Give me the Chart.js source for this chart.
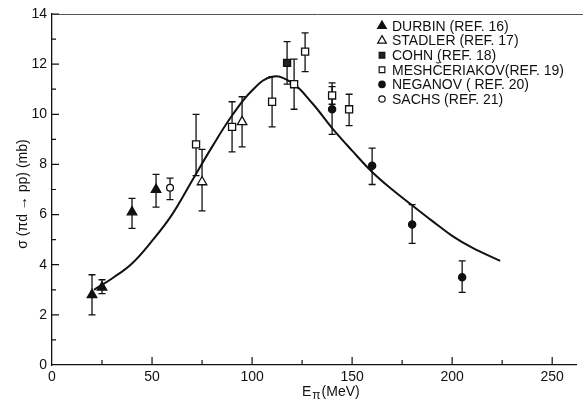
<!DOCTYPE html>
<html>
<head>
<meta charset="utf-8">
<script src="https://cdn.jsdelivr.net/npm/chart.js@4"></script>
<style>
  html, body { margin: 0; padding: 0; background: #fff; }
  #wrap { width: 583px; height: 400px; position: relative; }
</style>
</head>
<body>
<div id="wrap"><canvas id="c"></canvas></div>
<script>
// pion energy (MeV), cross section (mb), error bar limits
const durbinE = [20, 25, 40, 52];
const durbinSigma = [2.8, 3.1, 6.1, 7.0];
const durbinLo = [2.0, 2.85, 5.45, 6.3];
const durbinHi = [3.6, 3.4, 6.65, 7.6];

const stadlerE = [75, 95];
const stadlerSigma = [7.3, 9.7];
const stadlerLo = [6.15, 8.7];
const stadlerHi = [8.6, 10.7];

const cohnE = [117.5];
const cohnSigma = [12.05];
const cohnLo = [11.2];
const cohnHi = [12.9];

const meshE = [72, 90, 110, 121, 126.5, 140, 148.5];
const meshSigma = [8.8, 9.5, 10.5, 11.2, 12.5, 10.75, 10.2];
const meshLo = [7.55, 8.5, 9.5, 10.2, 11.7, 10.4, 9.55];
const meshHi = [10.0, 10.5, 11.5, 12.2, 13.25, 11.25, 10.8];

const neganovE = [140, 160, 180, 205];
const neganovSigma = [10.2, 7.95, 5.6, 3.5];
const neganovLo = [9.2, 7.2, 4.85, 2.9];
const neganovHi = [11.1, 8.65, 6.4, 4.15];

const sachsE = [59];
const sachsSigma = [7.07];
const sachsLo = [6.6];
const sachsHi = [7.45];

// theory curve
const fitE = [21, 30, 40, 50, 60, 70, 80, 90, 100, 110, 120, 130, 140, 150, 160, 170, 180, 190, 200, 210, 224];
const fitSigma = [3.0, 3.45, 4.05, 4.95, 6.0, 7.35, 8.7, 9.95, 10.95, 11.5, 11.25, 10.45, 9.45, 8.55, 7.7, 7.0, 6.37, 5.75, 5.15, 4.68, 4.15];

const xTicks = [0, 50, 100, 150, 200, 250];
const yTicks = [0, 2, 4, 6, 8, 10, 12, 14];

const FONT = "'Liberation Sans', Arial, sans-serif";
const INK = "#111";

const pts = (xs, ys) => xs.map((x, i) => ({ x: x, y: ys[i] }));

function markerSet(label, xs, ys, lo, hi, style, fill, r) {
  return {
    type: "scatter",
    label: label,
    data: pts(xs, ys),
    lo: lo,
    hi: hi,
    pointStyle: style,
    pointRadius: r,
    pointHoverRadius: r,
    backgroundColor: fill,
    borderColor: INK,
    pointBorderWidth: 1.3,
    legendFill: fill,
  };
}

function drawMarker(ctx, style, x, y, r, fill) {
  ctx.save();
  ctx.beginPath();
  if (style === "triangle") {
    ctx.moveTo(x, y - r);
    ctx.lineTo(x + r * 0.866, y + r * 0.5);
    ctx.lineTo(x - r * 0.866, y + r * 0.5);
    ctx.closePath();
  } else if (style === "rect") {
    const s = r * Math.SQRT1_2;
    ctx.rect(x - s, y - s, 2 * s, 2 * s);
  } else {
    ctx.arc(x, y, r, 0, Math.PI * 2);
  }
  ctx.fillStyle = fill;
  ctx.fill();
  ctx.lineWidth = 1.2;
  ctx.strokeStyle = INK;
  ctx.stroke();
  ctx.restore();
}

const errorBars = {
  id: "errorBars",
  beforeDatasetsDraw(chart) {
    const { ctx, scales: { x, y } } = chart;
    ctx.save();
    ctx.strokeStyle = INK;
    ctx.lineWidth = 1.3;
    chart.data.datasets.forEach((ds) => {
      if (!ds.lo) return;
      ds.data.forEach((p, i) => {
        const px = x.getPixelForValue(p.x);
        const y1 = y.getPixelForValue(ds.lo[i]);
        const y2 = y.getPixelForValue(ds.hi[i]);
        ctx.beginPath();
        ctx.moveTo(px, y1); ctx.lineTo(px, y2);
        ctx.moveTo(px - 3.5, y1); ctx.lineTo(px + 3.5, y1);
        ctx.moveTo(px - 3.5, y2); ctx.lineTo(px + 3.5, y2);
        ctx.stroke();
      });
    });
    ctx.restore();
  },
};

const frame = {
  id: "frame",
  afterDraw(chart) {
    const { ctx, chartArea: a, scales: { x, y } } = chart;
    ctx.save();
    // top rule
    ctx.strokeStyle = "#555";
    ctx.lineWidth = 1;
    ctx.beginPath();
    ctx.moveTo(a.left, a.top + 0.5);
    ctx.lineTo(chart.width, a.top + 0.5);
    ctx.stroke();
    // inward ticks
    ctx.strokeStyle = INK;
    ctx.lineWidth = 1.2;
    ctx.beginPath();
    for (let v = 25; v <= 250; v += 25) {
      const px = x.getPixelForValue(v);
      const len = v % 50 === 0 ? 8 : 5;
      ctx.moveTo(px, a.bottom); ctx.lineTo(px, a.bottom - len);
    }
    for (let v = 1; v <= 14; v++) {
      const py = y.getPixelForValue(v);
      const len = v % 2 === 0 ? 7 : 4;
      ctx.moveTo(a.left, py); ctx.lineTo(a.left + len, py);
    }
    ctx.stroke();

    // axis titles
    ctx.fillStyle = INK;
    ctx.textBaseline = "alphabetic";
    ctx.textAlign = "left";
    ctx.font = "14px " + FONT;
    let tx = 302;
    const by = 396;
    ctx.fillText("E", tx, by);
    tx += ctx.measureText("E").width + 1;
    ctx.font = "12px " + FONT;
    ctx.fillText("π", tx, by + 3);
    tx += ctx.measureText("π").width + 1;
    ctx.font = "14px " + FONT;
    ctx.fillText("(MeV)", tx, by);

    ctx.save();
    ctx.translate(27, 194);
    ctx.rotate(-Math.PI / 2);
    ctx.textAlign = "center";
    ctx.font = "14px " + FONT;
    ctx.fillText("σ (πd → pp) (mb)", 0, 0);
    ctx.restore();

    // legend
    ctx.font = "14px " + FONT;
    ctx.textBaseline = "middle";
    ctx.textAlign = "left";
    let ly = 26;
    chart.data.datasets.forEach((ds) => {
      if (!ds.lo) return;
      const r = ds.pointStyle === "triangle" ? 5 : 4;
      drawMarker(ctx, ds.pointStyle, 382, ly, ds.pointStyle === "circle" ? 3.2 : r, ds.legendFill);
      ctx.fillStyle = INK;
      ctx.fillText(ds.label, 392, ly + 1);
      ly += 14.6;
    });
    ctx.restore();
  },
};

new Chart(document.getElementById("c"), {
  data: {
    datasets: [
      markerSet("DURBIN (REF. 16)", durbinE, durbinSigma, durbinLo, durbinHi, "triangle", "#111", 5.5),
      markerSet("STADLER (REF. 17)", stadlerE, stadlerSigma, stadlerLo, stadlerHi, "triangle", "#fff", 5.5),
      markerSet("COHN (REF. 18)", cohnE, cohnSigma, cohnLo, cohnHi, "rect", "#222", 5),
      markerSet("MESHČERIAKOV(REF. 19)", meshE, meshSigma, meshLo, meshHi, "rect", "#fff", 5),
      markerSet("NEGANOV ( REF. 20)", neganovE, neganovSigma, neganovLo, neganovHi, "circle", "#111", 3.6),
      markerSet("SACHS (REF. 21)", sachsE, sachsSigma, sachsLo, sachsHi, "circle", "#fff", 3.4),
      {
        type: "line",
        label: "theory",
        data: pts(fitE, fitSigma),
        borderColor: INK,
        borderWidth: 2,
        pointRadius: 0,
        tension: 0.4,
        fill: false,
        order: 10,
      },
    ],
  },
  options: {
    responsive: true,
    maintainAspectRatio: false,
    animation: false,
    events: [],
    layout: { padding: { top: 14, right: 2, left: 0, bottom: 0 } },
    plugins: { legend: { display: false }, tooltip: { enabled: false } },
    scales: {
      x: {
        type: "linear",
        min: 0,
        max: 262,
        afterFit: (s) => { s.height = 35; },
        afterBuildTicks: (s) => { s.ticks = xTicks.map((v) => ({ value: v })); },
        grid: { drawOnChartArea: false, drawTicks: false },
        border: { color: INK, width: 1.3 },
        ticks: { color: INK, font: { family: FONT, size: 14 }, padding: 4, maxRotation: 0 },
      },
      y: {
        type: "linear",
        min: 0,
        max: 14,
        afterFit: (s) => { s.width = 52; },
        afterBuildTicks: (s) => { s.ticks = yTicks.map((v) => ({ value: v })); },
        grid: { drawOnChartArea: false, drawTicks: false },
        border: { color: INK, width: 1.3 },
        ticks: { color: INK, font: { family: FONT, size: 14 }, padding: 5 },
      },
    },
  },
  plugins: [errorBars, frame],
});
</script>
</body>
</html>
